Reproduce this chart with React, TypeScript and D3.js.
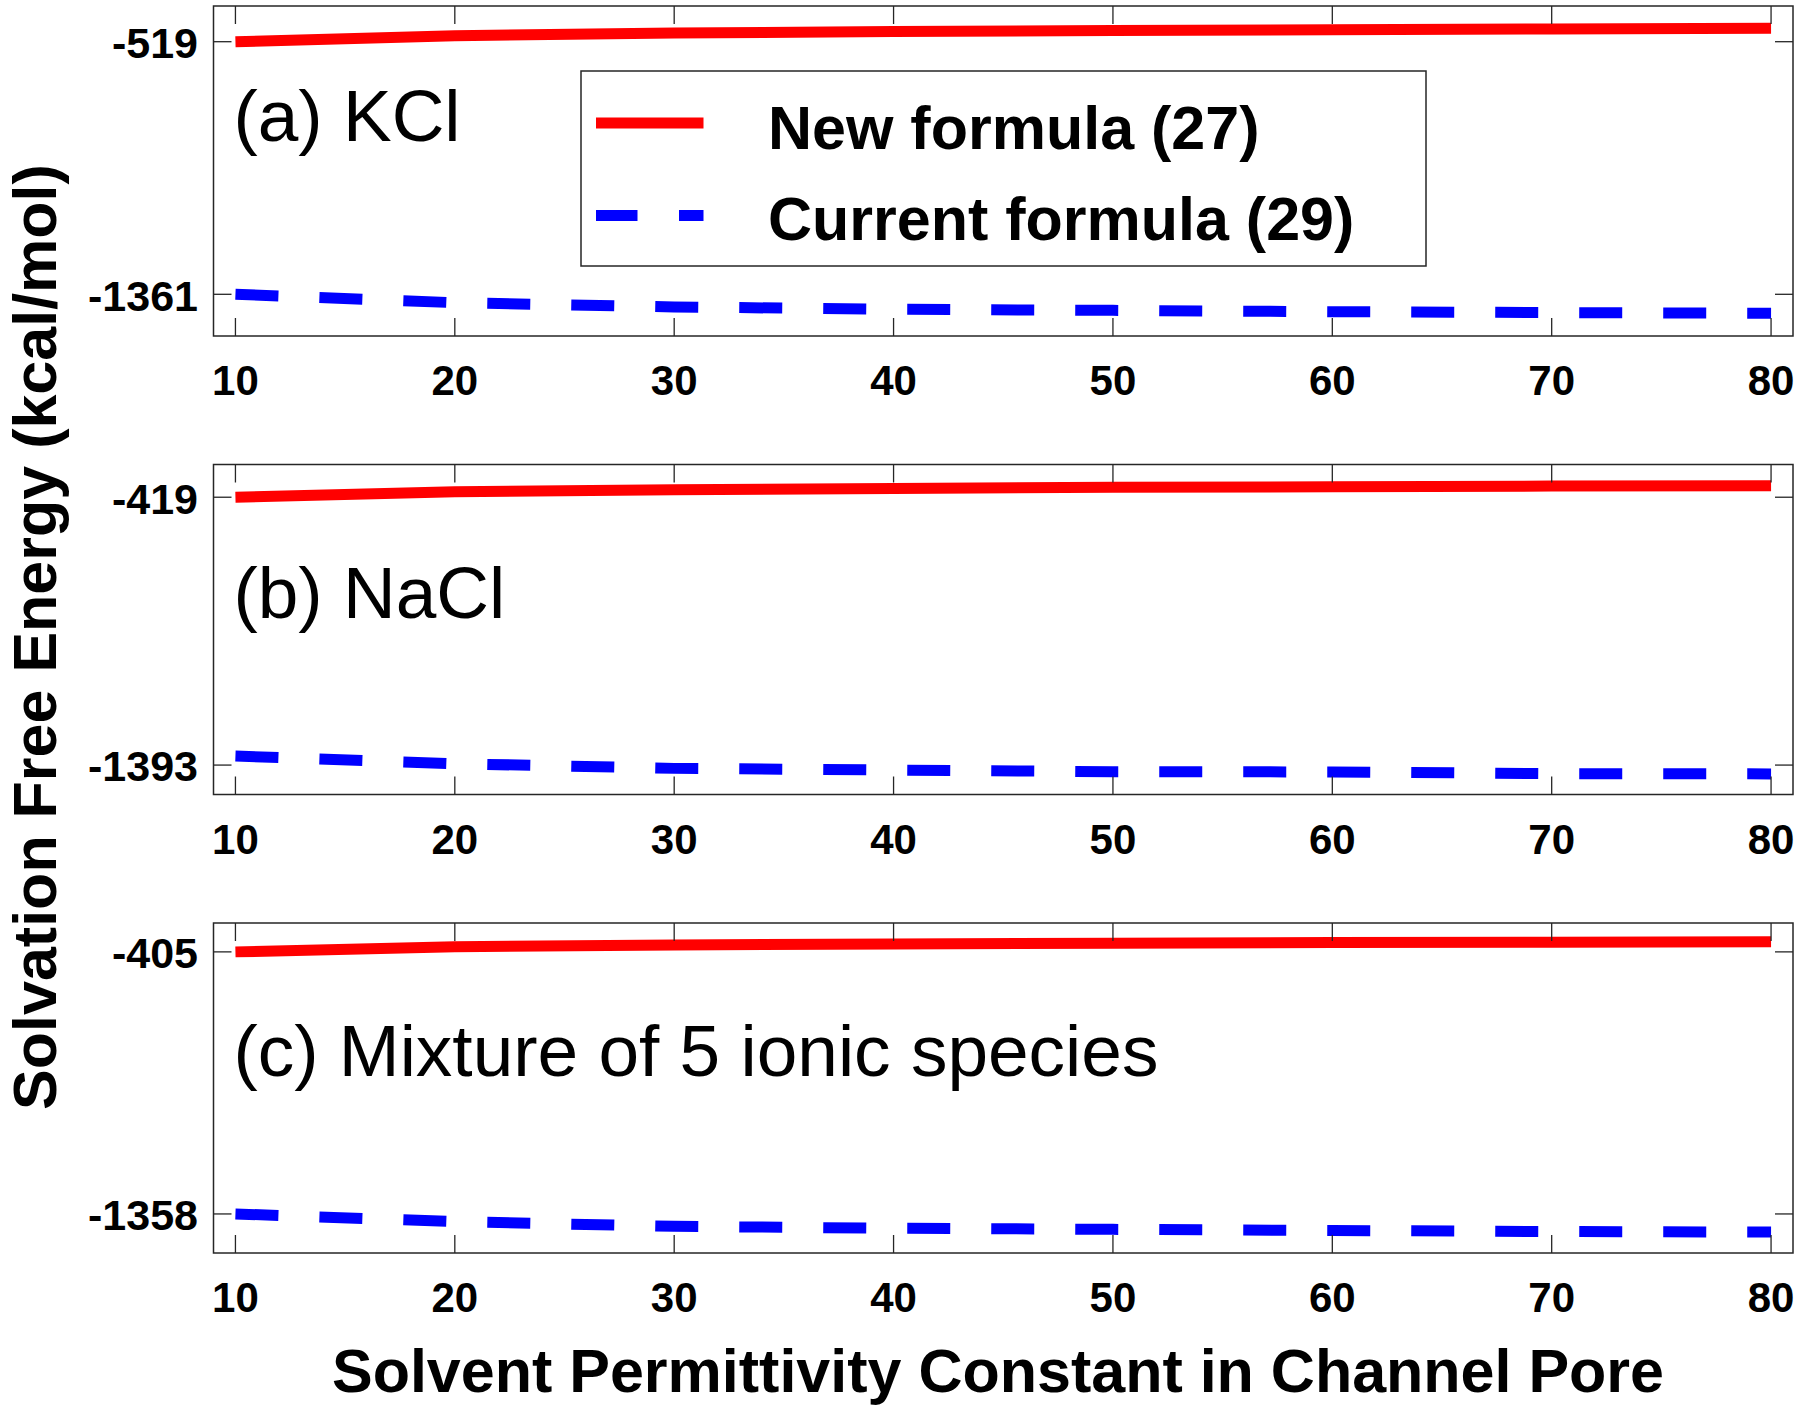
import React from 'react';
import * as d3 from 'd3';

// permittivity values (x)
const eps = [10, 20, 30, 40, 50, 60, 70, 80];

// (a) KCl
const kclNew = [-519, -499, -490, -485, -482, -479, -476.5, -474.5];
const kclCurrent = [-1361, -1389, -1403, -1411, -1414.5, -1419, -1422, -1424];
const kclTicks = [-1361, -519];

// (b) NaCl
const naclNew = [-419, -399, -392, -387, -383, -381, -378.5, -377.4];
const naclCurrent = [-1360, -1388, -1405, -1411, -1417, -1418, -1424, -1425];
const naclTicks = [-1393, -419];

// (c) mixture
const mixNew = [-405, -386, -380, -376, -374, -371, -370, -368];
const mixCurrent = [-1358, -1386, -1403, -1410, -1414, -1418, -1422, -1424];
const mixTicks = [-1358, -405];

const xTicks = [10, 20, 30, 40, 50, 60, 70, 80];
const legendLabels = ['New formula (27)', 'Current formula (29)'];

const W = 1800;
const H = 1412;
const left = 213.5;
const right = 1793;
const panelH = 330;
const font = '"Liberation Sans", Arial, Helvetica, sans-serif';
const axisColor = '#262626';

const panels = [
  { top: 6, domain: [-1500, -400], newVals: kclNew, curVals: kclCurrent, ticks: kclTicks, label: '(a) KCl', labelY: -850 },
  { top: 464.5, domain: [-1500, -300], newVals: naclNew, curVals: naclCurrent, ticks: naclTicks, label: '(b) NaCl', labelY: -858 },
  { top: 923, domain: [-1500, -300], newVals: mixNew, curVals: mixCurrent, ticks: mixTicks, label: '(c) Mixture of 5 ionic species', labelY: -855 },
];

const x = d3.scaleLinear().domain([9, 81]).range([left, right]);

function Panel({ p }) {
  const bottom = p.top + panelH;
  const y = d3.scaleLinear().domain(p.domain).range([bottom, p.top]);
  const line = d3.line<number>()
    .x((d, i) => x(eps[i]))
    .y(d => y(d));
  const tl = 18;
  return (
    <g>
      <path d={line(p.newVals) || ''} fill="none" stroke="#ff0000" strokeWidth={11} />
      <path d={line(p.curVals) || ''} fill="none" stroke="#0000ff" strokeWidth={11} strokeDasharray="43 41" />
      <rect x={left} y={p.top} width={right - left} height={panelH} fill="none" stroke={axisColor} strokeWidth={1.5} />
      {xTicks.map(t => (
        <g key={'x' + t}>
          <line x1={x(t)} x2={x(t)} y1={bottom} y2={bottom - tl} stroke={axisColor} strokeWidth={1.3} />
          <line x1={x(t)} x2={x(t)} y1={p.top} y2={p.top + tl} stroke={axisColor} strokeWidth={1.3} />
          <text x={x(t)} y={bottom + 59} textAnchor="middle" fontFamily={font} fontWeight="bold" fontSize={42}>{t}</text>
        </g>
      ))}
      {p.ticks.map(t => (
        <g key={'y' + t}>
          <line x1={left} x2={left + tl} y1={y(t)} y2={y(t)} stroke={axisColor} strokeWidth={1.3} />
          <line x1={right} x2={right - tl} y1={y(t)} y2={y(t)} stroke={axisColor} strokeWidth={1.3} />
          <text x={198} y={y(t)} dy="0.38em" textAnchor="end" fontFamily={font} fontWeight="bold" fontSize={43}>{t}</text>
        </g>
      ))}
      <text x={x(10) - 2} y={y(p.labelY)} fontFamily={font} fontSize={73}>{p.label}</text>
    </g>
  );
}

function Legend() {
  return (
    <g>
      <rect x={581} y={71} width={845} height={195} fill="#fff" stroke={axisColor} strokeWidth={1.5} />
      <line x1={596} x2={703.5} y1={123} y2={123} stroke="#ff0000" strokeWidth={11} />
      <line x1={596} x2={703.5} y1={215.5} y2={215.5} stroke="#0000ff" strokeWidth={11} strokeDasharray="41.5 41.5" />
      <text x={768} y={149} fontFamily={font} fontWeight="bold" fontSize={61}>{legendLabels[0]}</text>
      <text x={768} y={240} fontFamily={font} fontWeight="bold" fontSize={61}>{legendLabels[1]}</text>
    </g>
  );
}

export default function App() {
  return (
    <svg width={W} height={H} style={{ position: 'absolute', left: 0, top: 0, background: '#fff' }}>
      <rect width={W} height={H} fill="#fff" />
      {panels.map((p, i) => <Panel key={i} p={p} />)}
      <Legend />
      <text transform="translate(56,637) rotate(-90)" textAnchor="middle" fontFamily={font} fontWeight="bold" fontSize={61}>
        Solvation Free Energy (kcal/mol)
      </text>
      <text x={998} y={1392} textAnchor="middle" fontFamily={font} fontWeight="bold" fontSize={61}>
        Solvent Permittivity Constant in Channel Pore
      </text>
    </svg>
  );
}
